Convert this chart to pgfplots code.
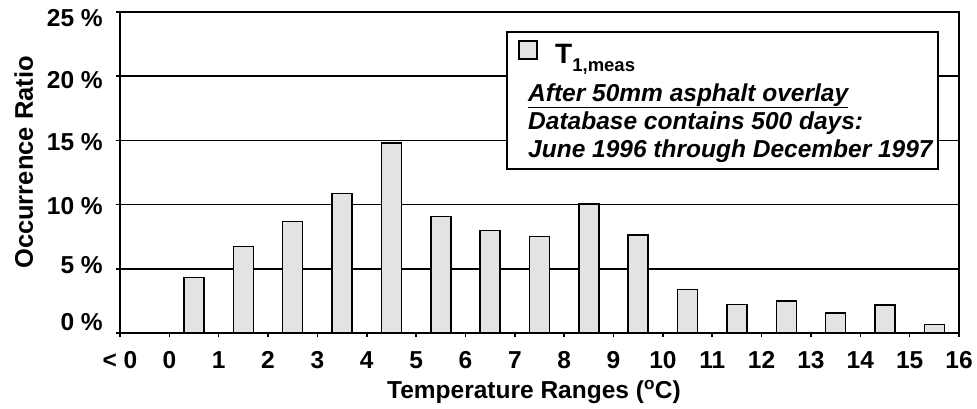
\documentclass[border=0pt]{standalone}
\usepackage{fontspec}
\setmainfont{Liberation Sans}
\usepackage{pgfplots}
\pgfplotsset{compat=1.18}
\definecolor{barfill}{RGB}{227,227,227}
\newcommand\lab{\fontsize{24.5bp}{28bp}\selectfont\bfseries}
\newcommand\leg{\fontsize{24.5bp}{28bp}\selectfont\bfseries\itshape}

\begin{document}
\begin{tikzpicture}
\useasboundingbox (-120bp,-76bp) rectangle (857bp,333bp);
\begin{axis}[
  at={(0,0)}, anchor=south west,
  scale only axis, width=839bp, height=321bp,
  xmin=-1, xmax=16, ymin=0, ymax=25,
  axis line style={line width=1.8bp},
  xtick={-1,0,...,16},
  xticklabels={< 0,0,1,2,3,4,5,6,7,8,9,10,11,12,13,14,15,16},
  ytick={0,5,...,25},
  yticklabels={},
  xtick pos=bottom, ytick pos=left,
  tick align=outside,
  major tick length=4bp,
  tick style={black, line width=1.5bp},
  ymajorgrids,
  grid style={black, line width=1.5bp},
  xticklabel style={font=\lab, inner sep=0pt, anchor=north, yshift=-14bp},
  legend style={at={(rel axis cs:0.4744,0.9128)}, anchor=north west,
    draw=none, fill=none, inner sep=0pt, nodes={inner sep=0pt}},
]
\addplot[ybar, bar width=20bp, fill=barfill, draw=black, line width=1.5bp,
  legend image code/.code={\draw[fill=barfill, draw=black, line width=1.5bp] (0bp,0bp) rectangle (18bp,18bp);}]
  coordinates {
  (0.5,4.34) (1.5,6.75) (2.5,8.70) (3.5,10.88) (4.5,14.80) (5.5,9.09)
  (6.5,7.97) (7.5,7.52) (8.5,10.05) (9.5,7.62) (10.5,3.39) (11.5,2.22)
  (12.5,2.50) (13.5,1.57) (14.5,2.17) (15.5,0.65)
  };
\addlegendentry{}
\draw[fill=white, line width=1.5bp] (rel axis cs:0.4613,0.5109) rectangle (rel axis cs:0.9750,0.9377);
\node[anchor=base west, inner sep=0pt] at (rel axis cs:0.5185,0.8411)
  {\bfseries\fontsize{28bp}{30bp}\selectfont T\raisebox{-8bp}{\fontsize{18.5bp}{20bp}\selectfont 1,meas}};
\node[anchor=base west, inner sep=0pt, font=\leg] at (rel axis cs:0.4863,0.7227) {\underline{After 50mm asphalt overlay}};
\node[anchor=base west, inner sep=0pt, font=\leg] at (rel axis cs:0.4863,0.6324) {Database contains 500 days:};
\node[anchor=base west, inner sep=0pt, font=\leg] at (rel axis cs:0.4863,0.5452) {June 1996 through December 1997};
\end{axis}
% y tick labels
\foreach \y/\v in {314.7/25, 252.5/20, 190.5/15, 127/10, 68/5, 11/0}
  \node[anchor=east, inner sep=0pt, font=\lab] at (-17bp,\y bp) {\v\ \%};
\node[anchor=base, inner sep=0pt, font=\lab] at (414bp,-65bp) {Temperature Ranges (\textsuperscript{o}C)};
\node[anchor=base, rotate=90, inner sep=0pt, font=\lab] at (-87bp,170.5bp) {\fontsize{25.5bp}{28bp}\selectfont Occurrence Ratio};
\end{tikzpicture}
\end{document}
